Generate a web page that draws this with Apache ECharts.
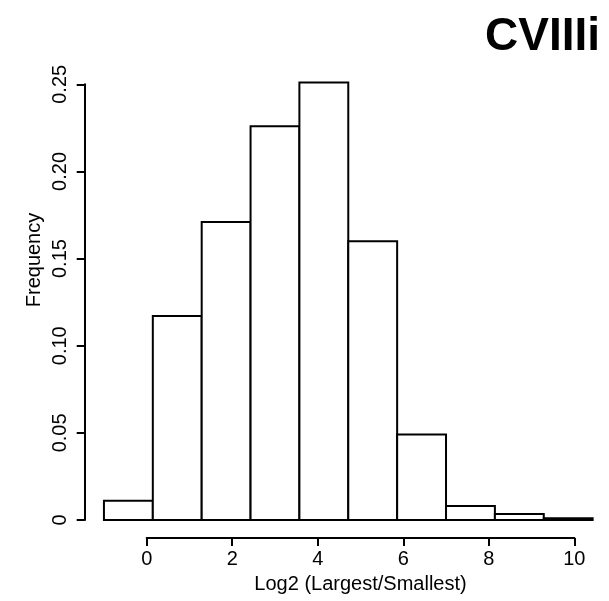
<!DOCTYPE html>
<html>
<head>
<meta charset="utf-8">
<script src="https://cdn.jsdelivr.net/npm/echarts@6/dist/echarts.min.js"></script>
<style>
  html, body { margin: 0; padding: 0; background: #fff; }
  #main { width: 609px; height: 601px; }
</style>
</head>
<body>
<div id="main"></div>
<script>
// histogram breaks (Log2 Largest/Smallest) and frequencies
var breaks = [-1, 0.143, 1.286, 2.429, 3.571, 4.714, 5.857, 7.0, 8.143, 9.286, 10.429];
var freq = [0.011, 0.117, 0.171, 0.226, 0.251, 0.160, 0.049, 0.008, 0.0035, 0.001];
var xTicks = [0, 2, 4, 6, 8, 10];
var yTicks = [0, 0.05, 0.10, 0.15, 0.20, 0.25];

var font = 'Liberation Sans, Arial, sans-serif';

var bins = [];
for (var i = 0; i < freq.length; i++) {
    bins.push([breaks[i], breaks[i + 1], freq[i]]);
}

var myChart = echarts.init(document.getElementById('main'));

var option = {
    backgroundColor: '#fff',
    animation: false,
    title: {
        text: 'CVIIIi',
        right: 9,
        top: 14,
        padding: 0,
        textStyle: { fontFamily: font, fontSize: 46, fontWeight: 'bold', color: '#000' }
    },
    grid: { left: 146.7, right: 34.7, top: 84.3, bottom: 81 },
    xAxis: {
        type: 'value',
        min: 0, max: 10, interval: 2,
        offset: 18,
        splitLine: { show: false },
        axisLine: { onZero: false, lineStyle: { color: '#000', width: 2 } },
        axisTick: { length: 8, lineStyle: { color: '#000', width: 2 } },
        axisLabel: {
            color: '#000', fontSize: 20, fontFamily: font, margin: 11,
            customValues: xTicks
        },
        name: 'Log2 (Largest/Smallest)',
        nameLocation: 'middle',
        nameGap: 36,
        nameTextStyle: { color: '#000', fontSize: 20, fontFamily: font }
    },
    yAxis: {
        type: 'value',
        min: 0, max: 0.25, interval: 0.05,
        offset: 62,
        splitLine: { show: false },
        axisLine: { show: true, onZero: false, lineStyle: { color: '#000', width: 2 } },
        axisTick: { show: true, length: 8, lineStyle: { color: '#000', width: 2 } },
        axisLabel: {
            color: '#000', fontSize: 20, fontFamily: font, rotate: 90, margin: 14,
            formatter: function (v) { return v === 0 ? '0' : v.toFixed(2); }
        }
    },
    graphic: [{
        type: 'text',
        x: 34.5, y: 260,
        rotation: Math.PI / 2,
        style: {
            text: 'Frequency', fill: '#000', fontSize: 20, fontFamily: font,
            textAlign: 'center', textVerticalAlign: 'middle'
        }
    }],
    series: [{
        type: 'custom',
        clip: false,
        data: bins,
        renderItem: function (params, api) {
            var p0 = api.coord([api.value(0), api.value(2)]);
            var p1 = api.coord([api.value(1), 0]);
            return {
                type: 'rect',
                shape: { x: p0[0], y: p0[1], width: p1[0] - p0[0], height: p1[1] - p0[1] },
                style: { fill: '#fff', stroke: '#000', lineWidth: 2 }
            };
        }
    }]
};

myChart.setOption(option);
</script>
</body>
</html>
